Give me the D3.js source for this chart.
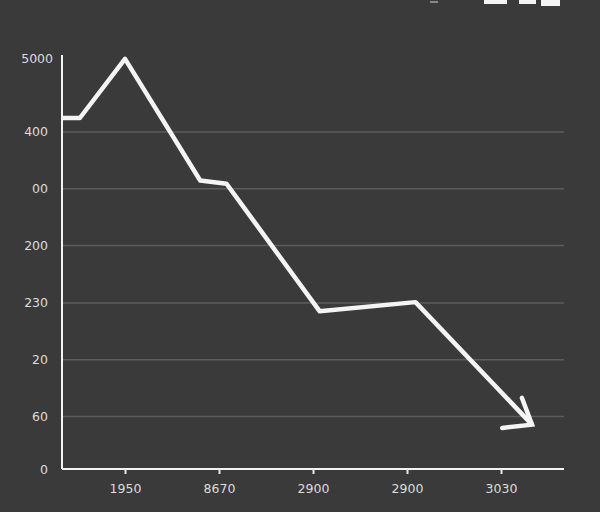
<!DOCTYPE html>
<html><head><meta charset="utf-8">
<script src="https://cdn.jsdelivr.net/npm/d3@7"></script>
<style>html,body{margin:0;padding:0;background:#3a3a3a;}svg{display:block;}</style>
</head><body>
<script>
// data
const xPos = [-0.67, -0.48, 0, 0.80, 1.08, 2.07, 3.09, 4.33];
const values = [4270, 4270, 4990, 3510, 3470, 1920, 2030, 540];
const xTickValues = [0, 1, 2, 3, 4];
const xTickLabels = ["1950", "8670", "2900", "2900", "3030"];
const yTickValues = [0, 640, 1330, 2020, 2720, 3410, 4100, 5000];
const yTickLabels = ["0", "60", "20", "230", "200", "00", "400", "5000"];
const gridValues = [640, 1330, 2020, 2720, 3410, 4100];

const W = 600, H = 512;
const svg = d3.select("body").append("svg").attr("width", W).attr("height", H);
svg.append("rect").attr("width", W).attr("height", H).attr("fill", "#3a3a3a");

const x = d3.scaleLinear().domain([0, 4]).range([125, 501]);
const y = d3.scaleLinear().domain([0, 5000]).range([469, 58]);
const x0 = 62, x1 = 564;

// gridlines
svg.append("g").selectAll("line").data(gridValues).join("line")
  .attr("x1", x0).attr("x2", x1)
  .attr("y1", d => y(d)).attr("y2", d => y(d))
  .attr("stroke", "#5c5c5c").attr("stroke-width", 1.5);

// y axis
const yAxis = d3.axisLeft(y).tickValues(yTickValues).tickSize(0).tickPadding(14)
  .tickFormat((d, i) => yTickLabels[i]);
const gy = svg.append("g").attr("transform", `translate(${x0},0)`).call(yAxis);
gy.select(".domain").attr("d", `M0,55V${y(0)}`).attr("stroke", "#f2f2f2").attr("stroke-width", 2);
gy.selectAll("text").attr("fill", "#dcdcdc").attr("font-size", 12.5)
  .attr("font-family", "DejaVu Sans, sans-serif");
gy.selectAll(".tick").filter(d => d === 5000).select("text").attr("x", -9);

// x axis
const xAxis = d3.axisBottom(x).tickValues(xTickValues).tickSize(5).tickPadding(10)
  .tickFormat((d, i) => xTickLabels[i]);
const gx = svg.append("g").attr("transform", `translate(0,${y(0)})`).call(xAxis);
gx.select(".domain").attr("d", `M${x0},0H${x1}`).attr("stroke", "#f2f2f2").attr("stroke-width", 2);
gx.selectAll(".tick line").attr("stroke", "#e8e8e8").attr("stroke-width", 2);
gx.selectAll("text").attr("fill", "#dcdcdc").attr("font-size", 12.5)
  .attr("font-family", "DejaVu Sans, sans-serif");

// line
const pts = xPos.map((d, i) => [x(d), y(values[i])]);
const line = d3.line().x(d => d[0]).y(d => d[1]);
svg.append("path").attr("d", line(pts)).attr("fill", "none")
  .attr("stroke", "#f4f4f4").attr("stroke-width", 4.5).attr("stroke-linejoin", "round");

// arrowhead (hand-drawn, asymmetric wings)
const tip = pts[pts.length - 1], prev = pts[pts.length - 2];
const ang = Math.atan2(tip[1] - prev[1], tip[0] - prev[0]);
const wing1 = [tip[0] - 28.5 * Math.cos(ang + 0.40), tip[1] - 28.5 * Math.sin(ang + 0.40)];
const wing2 = [tip[0] - 30 * Math.cos(ang - 0.92), tip[1] - 30 * Math.sin(ang - 0.92)];
svg.append("path").attr("d", line([wing1, tip, wing2])).attr("fill", "none")
  .attr("stroke", "#f4f4f4").attr("stroke-width", 4.5).attr("stroke-linejoin", "miter")
  .attr("stroke-linecap", "round");

// cropped legend remnants at top
const legendBoxes = [[484, 23, 4], [519, 17, 4], [541, 19, 6]];
svg.append("g").selectAll("rect").data(legendBoxes).join("rect")
  .attr("x", d => d[0]).attr("y", 0).attr("width", d => d[1]).attr("height", d => d[2])
  .attr("fill", "#f4f4f4");
svg.append("rect").attr("x", 430).attr("y", 1).attr("width", 8).attr("height", 2).attr("fill", "#888");
</script>
</body></html>
